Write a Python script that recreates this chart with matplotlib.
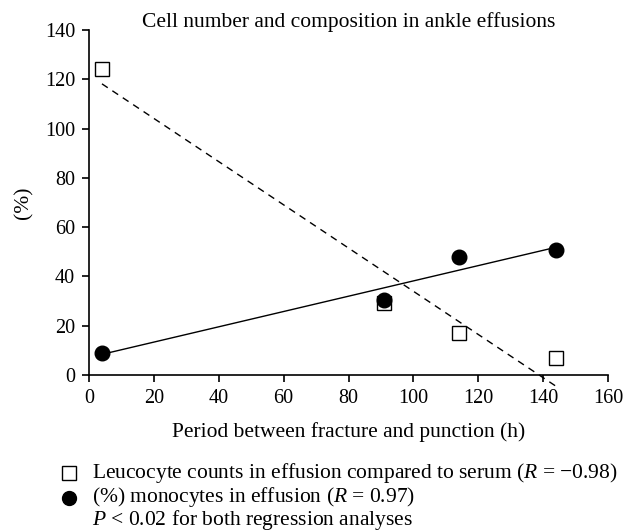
import numpy as np
import matplotlib
matplotlib.use('Agg')
import matplotlib.pyplot as plt

plt.rcParams['font.family'] = ['Liberation Serif', 'DejaVu Serif']
plt.rcParams['mathtext.fontset'] = 'custom'
plt.rcParams['mathtext.it'] = 'Liberation Serif:italic'
plt.rcParams['mathtext.rm'] = 'Liberation Serif'

# Hours between fracture and punction
hours = [4, 91, 114, 144]
# Leucocyte counts in effusion compared to serum (%)
leuco = [124, 29, 17, 7]
# Monocytes in effusion (%)
mono = [9, 30.5, 48, 50.5]

xticks = [0, 20, 40, 60, 80, 100, 120, 140, 160]
yticks = [0, 20, 40, 60, 80, 100, 120, 140]

FS = 15.5

fig = plt.figure(figsize=(6.24, 5.31), dpi=100)
ax = fig.add_axes([0.1426, 0.294, 0.8318, 0.6495])

# regression lines
xs = np.array([hours[0], hours[-1]])
k1, b1 = np.polyfit(hours, leuco, 1)
k2, b2 = np.polyfit(hours, mono, 1)
ax.plot(xs, k1 * xs + b1, 'k--', lw=1, dashes=(5, 4), clip_on=False)
ax.plot(xs, k2 * xs + b2, 'k-', lw=1, clip_on=False)

ax.plot(hours, leuco, 's', ms=10, mfc='white', mec='black', mew=1, clip_on=False, zorder=3)
ax.plot(hours, mono, 'o', ms=10.5, color='black', clip_on=False, zorder=4)

ax.set_xlim(0, 160)
ax.set_ylim(0, 140)
ax.set_xticks(xticks)
ax.set_yticks(yticks)
ax.spines['top'].set_visible(False)
ax.spines['right'].set_visible(False)
for s in ['left', 'bottom']:
    ax.spines[s].set_linewidth(1.2)
ax.tick_params(direction='out', length=5, width=1.2, labelsize=14.5, pad=5)
ax.set_xlabel('Period between fracture and punction (h)', fontsize=FS, labelpad=10)
ax.set_ylabel('(%)', fontsize=FS, labelpad=8)
fig.text(348.5 / 624, 1 - 22 / 531, 'Cell number and composition in ankle effusions',
         ha='center', va='center', fontsize=FS)

# legend block below the chart
tx = 92 / 624
fig.text(tx, 1 - 473 / 531, r'Leucocyte counts in effusion compared to serum ($R$ = $-$0.98)',
         fontsize=FS, va='center')
fig.text(tx, 1 - 497 / 531, r'(%) monocytes in effusion ($R$ = 0.97)',
         fontsize=FS, va='center')
fig.text(tx, 1 - 520 / 531, r'$P$ < 0.02 for both regression analyses',
         fontsize=FS, va='center')
fig.lines.append(plt.Line2D([69 / 624], [1 - 473 / 531], marker='s', ms=9.5, mfc='white',
                            mec='black', mew=1, transform=fig.transFigure))
fig.lines.append(plt.Line2D([69 / 624], [1 - 498 / 531], marker='o', ms=10, color='black',
                            transform=fig.transFigure))

fig.savefig('out.png', dpi=100)
